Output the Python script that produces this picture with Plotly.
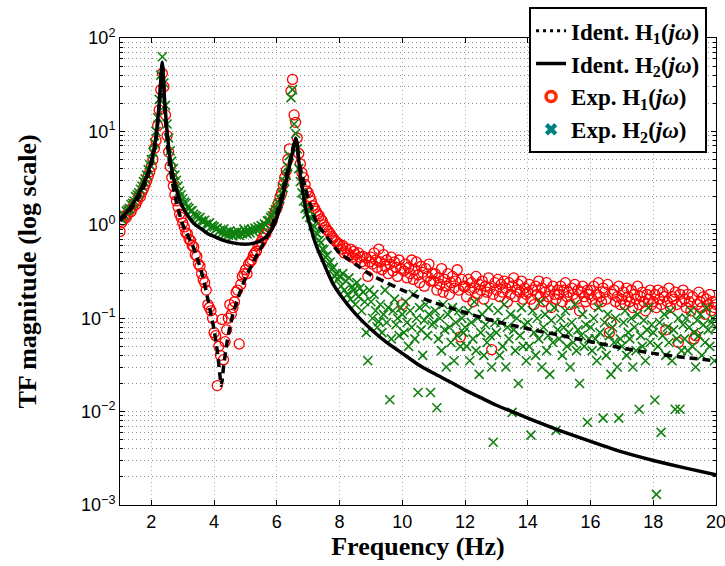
import numpy as np
import plotly.graph_objects as go

# ---------------- data ----------------
FREQ_START = 1.0
FREQ_STEP = 0.05

# Experimental H1 (red circles), one value per 0.05 Hz from 1.00 Hz to 20.00 Hz
exp_h1 = [
    0.85, 1.05, 1.12, 1.25, 1.2, 1.3, 1.45, 1.38, 1.5, 1.7, 1.65, 1.8, 2.05, 2.0, 2.25, 2.45, 2.7, 2.95, 3.3, 3.7,
    4.2, 5.0, 6.6, 8.0, 11.5, 17, 28, 42, 30, 15, 9.0, 6.0, 4.2, 3.2, 2.6, 2.1, 1.8, 1.55, 1.3, 1.2,
    1.05, 0.95, 0.82, 0.8, 0.7, 0.68, 0.6, 0.58, 0.48, 0.46, 0.38, 0.36, 0.3, 0.26, 0.24, 0.2, 0.14, 0.13, 0.12, 0.1,
    0.07, 0.065, 0.019, 0.05, 0.04, 0.097, 0.036, 0.056, 0.075, 0.1, 0.14, 0.11, 0.13, 0.15, 0.19, 0.2, 0.053, 0.23, 0.28, 0.3,
    0.33, 0.3, 0.38, 0.4, 0.42, 0.47, 0.5, 0.52, 0.6, 0.62, 0.66, 0.72, 0.78, 0.8, 0.9, 0.95, 1.05, 1.1, 1.25, 1.4,
    1.5, 1.7, 2.0, 2.2, 2.7, 3.2, 3.8, 5.0, 6.5, 27, 36, 15, 12.5, 8.5, 5.8, 4.5, 3.6, 3.2, 2.7, 2.3,
    2.2, 2.0, 1.8, 1.6, 1.5, 1.4, 1.3, 1.25, 1.15, 1.1, 1.0, 0.95, 0.88, 0.85, 0.8, 0.75, 0.72, 0.68, 0.66, 0.62,
    0.62, 0.55, 0.6, 0.5, 0.56, 0.5, 0.47, 0.55, 0.45, 0.52, 0.48, 0.42, 0.5, 0.45, 0.4, 0.46, 0.38, 0.44, 0.28, 0.4,
    0.45, 0.38, 0.5, 0.42, 0.35, 0.55, 0.4, 0.33, 0.48, 0.36, 0.42, 0.3, 0.38, 0.45, 0.32, 0.4, 0.35, 0.28, 0.42, 0.34,
    0.14, 0.32, 0.38, 0.27, 0.35, 0.3, 0.42, 0.26, 0.33, 0.4, 0.29, 0.24, 0.36, 0.31, 0.22, 0.34, 0.28, 0.38, 0.25, 0.3,
    0.25, 0.3, 0.2, 0.27, 0.23, 0.34, 0.19, 0.26, 0.22, 0.3, 0.18, 0.24, 0.28, 0.21, 0.25, 0.33, 0.2, 0.063, 0.26, 0.22,
    0.22, 0.17, 0.26, 0.2, 0.24, 0.15, 0.21, 0.28, 0.18, 0.23, 0.2, 0.25, 0.16, 0.22, 0.19, 0.27, 0.21, 0.046, 0.18, 0.24,
    0.2, 0.26, 0.17, 0.23, 0.19, 0.25, 0.21, 0.15, 0.24, 0.18, 0.22, 0.27, 0.17, 0.2, 0.23, 0.19, 0.25, 0.16, 0.21, 0.18,
    0.19, 0.23, 0.16, 0.2, 0.14, 0.22, 0.18, 0.25, 0.17, 0.21, 0.15, 0.19, 0.24, 0.17, 0.2, 0.13, 0.22, 0.18, 0.16, 0.2,
    0.18, 0.22, 0.15, 0.2, 0.24, 0.17, 0.19, 0.14, 0.21, 0.18, 0.23, 0.16, 0.2, 0.12, 0.19, 0.22, 0.17, 0.15, 0.2, 0.18,
    0.2, 0.16, 0.22, 0.14, 0.18, 0.24, 0.17, 0.15, 0.21, 0.19, 0.16, 0.23, 0.07, 0.09, 0.18, 0.2, 0.15, 0.17, 0.22, 0.14,
    0.16, 0.19, 0.14, 0.21, 0.17, 0.15, 0.2, 0.13, 0.18, 0.16, 0.22, 0.14, 0.17, 0.19, 0.15, 0.12, 0.18, 0.16, 0.2, 0.14,
    0.15, 0.18, 0.13, 0.2, 0.16, 0.14, 0.19, 0.17, 0.075, 0.15, 0.21, 0.13, 0.17, 0.16, 0.19, 0.14, 0.055, 0.18, 0.15, 0.2,
    0.16, 0.13, 0.18, 0.15, 0.12, 0.17, 0.06, 0.065, 0.14, 0.19, 0.15, 0.13, 0.17, 0.11, 0.16, 0.14, 0.18, 0.12, 0.15, 0.13,
    0.14,
]

# Experimental H2 (green crosses), same frequency grid
exp_h2 = [
    1.2, 1.15, 1.3, 1.25, 1.4, 1.45, 1.5, 1.65, 1.7, 1.8, 2.0, 2.1, 2.2, 2.4, 2.6, 2.9, 3.1, 3.4, 3.9, 4.4,
    5.0, 6.0, 7.5, 10, 14, 22, 40, 63, 33, 19, 12, 8.5, 6.2, 4.8, 4.0, 3.4, 3.0, 2.6, 2.3, 2.1,
    1.9, 1.75, 1.7, 1.55, 1.5, 1.4, 1.42, 1.3, 1.25, 1.22, 1.15, 1.2, 1.1, 1.08, 1.12, 1.02, 1.0, 1.05, 0.95, 0.98,
    0.95, 0.9, 0.92, 0.85, 0.88, 0.82, 0.9, 0.8, 0.84, 0.78, 0.86, 0.8, 0.76, 0.83, 0.79, 0.85, 0.77, 0.82, 0.8, 0.9,
    0.84, 0.8, 0.88, 0.82, 0.9, 0.85, 0.92, 0.88, 0.95, 0.9, 0.98, 0.95, 1.02, 1.0, 1.1, 1.12, 1.2, 1.25, 1.35, 1.45,
    1.55, 1.7, 1.9, 2.2, 2.5, 2.9, 3.4, 4.2, 5.5, 23, 28, 12, 9.5, 6.5, 4.0, 2.9, 2.2, 1.8, 1.5, 1.3,
    1.45, 1.2, 1.18, 0.98, 0.95, 0.82, 0.8, 0.68, 0.64, 0.55, 0.54, 0.45, 0.47, 0.38, 0.4, 0.33, 0.35, 0.28, 0.3, 0.26,
    0.28, 0.22, 0.3, 0.2, 0.25, 0.18, 0.27, 0.16, 0.22, 0.2, 0.14, 0.24, 0.17, 0.21, 0.12, 0.19, 0.15, 0.07, 0.035, 0.2,
    0.15, 0.1, 0.18, 0.12, 0.08, 0.092, 0.14, 0.07, 0.11, 0.2, 0.09, 0.13, 0.0134, 0.06, 0.12, 0.16, 0.085, 0.1, 0.065, 0.13,
    0.11, 0.07, 0.15, 0.09, 0.05, 0.12, 0.08, 0.18, 0.06, 0.1, 0.016, 0.13, 0.075, 0.04, 0.095, 0.14, 0.065, 0.11, 0.016, 0.085,
    0.09, 0.12, 0.011, 0.06, 0.1, 0.045, 0.14, 0.075, 0.03, 0.11, 0.08, 0.055, 0.13, 0.035, 0.09, 0.065, 0.12, 0.05, 0.1, 0.07,
    0.08, 0.05, 0.12, 0.035, 0.09, 0.06, 0.15, 0.045, 0.1, 0.025, 0.07, 0.11, 0.04, 0.085, 0.055, 0.13, 0.065, 0.03, 0.0047, 0.09,
    0.07, 0.12, 0.04, 0.09, 0.05, 0.14, 0.03, 0.08, 0.06, 0.11, 0.0098, 0.075, 0.045, 0.1, 0.02, 0.065, 0.13, 0.05, 0.085, 0.035,
    0.09, 0.05, 0.0056, 0.12, 0.07, 0.04, 0.1, 0.06, 0.15, 0.03, 0.08, 0.11, 0.045, 0.065, 0.025, 0.095, 0.055, 0.13, 0.0063, 0.075,
    0.06, 0.1, 0.04, 0.08, 0.12, 0.05, 0.07, 0.03, 0.09, 0.055, 0.14, 0.045, 0.075, 0.02, 0.065, 0.11, 0.05, 0.085, 0.0077, 0.06,
    0.08, 0.045, 0.1, 0.06, 0.035, 0.13, 0.07, 0.05, 0.0085, 0.09, 0.04, 0.11, 0.065, 0.025, 0.08, 0.055, 0.1, 0.03, 0.0085, 0.06,
    0.05, 0.09, 0.12, 0.04, 0.07, 0.06, 0.1, 0.03, 0.08, 0.045, 0.11, 0.0106, 0.065, 0.05, 0.095, 0.035, 0.075, 0.13, 0.055, 0.085,
    0.07, 0.0133, 0.0013, 0.05, 0.09, 0.006, 0.065, 0.11, 0.04, 0.08, 0.055, 0.12, 0.035, 0.075, 0.0106, 0.06, 0.1, 0.0106, 0.045, 0.085,
    0.06, 0.1, 0.045, 0.08, 0.12, 0.05, 0.07, 0.03, 0.095, 0.065, 0.11, 0.04, 0.085, 0.055, 0.13, 0.075, 0.05, 0.09, 0.1, 0.035,
    0.08,
]

# Identified H1 (dashed)
ident_h1_f = [1.0, 1.2, 1.4, 1.6, 1.8, 1.9, 2.0, 2.1, 2.15, 2.2, 2.25, 2.3, 2.33, 2.35, 2.37, 2.4, 2.45, 2.5, 2.55, 2.6,
              2.7, 2.8, 2.9, 3.0, 3.1, 3.2, 3.3, 3.4, 3.5, 3.6, 3.7, 3.8, 3.9, 4.0, 4.1, 4.15, 4.2, 4.23, 4.26, 4.3,
              4.4, 4.5, 4.6, 4.8, 5.0, 5.2, 5.4, 5.6, 5.8, 6.0, 6.1, 6.2, 6.3, 6.4, 6.5, 6.55, 6.6, 6.65, 6.7, 6.8,
              6.9, 7.0, 7.1, 7.2, 7.3, 7.5, 7.8, 8.0, 8.5, 9.0, 9.5, 10, 10.5, 11, 11.5, 12, 12.5, 13, 13.5, 14,
              14.5, 15, 16, 17, 18, 19, 20]
ident_h1_y = [1.1, 1.28, 1.55, 2.0, 2.75, 3.4, 4.4, 6.4, 8.3, 12, 18.5, 32, 47, 52, 43, 25, 13.5, 8.2, 5.6, 4.0,
              2.5, 1.75, 1.3, 1.0, 0.85, 0.72, 0.62, 0.5, 0.4, 0.31, 0.23, 0.16, 0.11, 0.075, 0.045, 0.032, 0.022, 0.019, 0.022, 0.03,
              0.052, 0.08, 0.11, 0.18, 0.27, 0.37, 0.5, 0.65, 0.9, 1.35, 1.75, 2.4, 3.4, 4.6, 6.3, 7.4, 8.3, 7.3, 4.9, 3.4,
              2.6, 1.9, 1.55, 1.2, 1.0, 0.82, 0.6, 0.5, 0.38, 0.29, 0.24, 0.2, 0.17, 0.148, 0.13, 0.115, 0.102, 0.092, 0.084, 0.077,
              0.071, 0.066, 0.056, 0.048, 0.042, 0.038, 0.035]

# Identified H2 (solid)
ident_h2_f = [1.0, 1.2, 1.4, 1.6, 1.8, 1.9, 2.0, 2.1, 2.15, 2.2, 2.25, 2.3, 2.33, 2.35, 2.37, 2.4, 2.45, 2.5, 2.6, 2.7,
              2.8, 2.9, 3.0, 3.2, 3.4, 3.6, 3.8, 4.0, 4.3, 4.6, 5.0, 5.3, 5.5, 5.7, 5.9, 6.0, 6.1, 6.2, 6.3, 6.4,
              6.5, 6.55, 6.6, 6.65, 6.7, 6.75, 6.8, 6.9, 7.0, 7.1, 7.2, 7.3, 7.45, 7.6, 7.8, 8.0, 8.5, 9.0, 9.5, 10,
              10.5, 11, 11.5, 12, 12.5, 13, 13.5, 14, 15, 16, 17, 18, 19, 20]
ident_h2_y = [1.15, 1.35, 1.65, 2.15, 3.0, 3.7, 4.8, 7.0, 9.0, 13, 20, 35, 50, 55, 46, 28, 16, 10, 5.0, 3.2,
              2.4, 1.85, 1.55, 1.2, 1.0, 0.9, 0.8, 0.75, 0.68, 0.64, 0.62, 0.64, 0.68, 0.77, 0.98, 1.2, 1.55, 2.1, 3.0, 4.2,
              6.0, 7.3, 8.5, 7.2, 4.8, 3.4, 2.6, 1.6, 1.15, 0.88, 0.68, 0.55, 0.42, 0.32, 0.23, 0.182, 0.112, 0.076, 0.055, 0.042,
              0.032, 0.0257, 0.021, 0.017, 0.0141, 0.0117, 0.01, 0.0085, 0.0063, 0.0048, 0.0037, 0.003, 0.0025, 0.0021]

x_ticks = [2, 4, 6, 8, 10, 12, 14, 16, 18, 20]
y_ticks = [1e-3, 1e-2, 1e-1, 1e0, 1e1, 1e2]
y_ticktext = ["10<sup>\u22123</sup>", "10<sup>\u22122</sup>", "10<sup>\u22121</sup>",
              "10<sup>0</sup>", "10<sup>1</sup>", "10<sup>2</sup>"]
legend_names = ["Ident. H<sub>1</sub>(<i>j\u03c9</i>)", "Ident. H<sub>2</sub>(<i>j\u03c9</i>)",
                "Exp. H<sub>1</sub>(<i>j\u03c9</i>)", "Exp. H<sub>2</sub>(<i>j\u03c9</i>)"]

freq = np.round(FREQ_START + FREQ_STEP * np.arange(len(exp_h1)), 2)
y_minor = [k * 10.0 ** e for e in range(-3, 2) for k in range(2, 10)]

fig = go.Figure()

fig.add_trace(go.Scatter(x=freq, y=exp_h1, mode="markers", showlegend=False,
                         marker=dict(symbol="circle-open", size=10, color="#ff0000",
                                     line=dict(width=1.3, color="#ff0000"))))
fig.add_trace(go.Scatter(x=freq, y=exp_h2, mode="markers", showlegend=False,
                         marker=dict(symbol="x-thin-open", size=9, color="#108010",
                                     line=dict(width=1.6, color="#108010"))))
fig.add_trace(go.Scatter(x=ident_h1_f, y=ident_h1_y, mode="lines", showlegend=False,
                         line=dict(color="black", width=3.5, dash="8px,5px", shape="spline", smoothing=0.5)))
fig.add_trace(go.Scatter(x=ident_h2_f, y=ident_h2_y, mode="lines", showlegend=False,
                         line=dict(color="black", width=3.5, shape="spline", smoothing=0.5)))

# legend entries
fig.add_trace(go.Scatter(x=[None], y=[None], mode="lines", name=legend_names[0],
                         line=dict(color="black", width=3, dash="3px,4px")))
fig.add_trace(go.Scatter(x=[None], y=[None], mode="lines", name=legend_names[1],
                         line=dict(color="black", width=3.5)))
fig.add_trace(go.Scatter(x=[None], y=[None], mode="markers", name=legend_names[2],
                         marker=dict(symbol="circle-open", size=10, color="#ff2a00",
                                     line=dict(width=3.5, color="#ff2a00"))))
fig.add_trace(go.Scatter(x=[None], y=[None], mode="markers", name=legend_names[3],
                         marker=dict(symbol="x", size=11, color="#008080",
                                     line=dict(width=0))))

tick_font = dict(family="Liberation Sans", size=18, color="black")
title_font = dict(family="Liberation Serif", size=26, color="black", weight="bold")

fig.update_layout(
    width=725, height=566,
    margin=dict(l=120, r=9, t=38, b=61, autoexpand=False),
    paper_bgcolor="white", plot_bgcolor="white",
    legend=dict(x=0.985, y=1.066, xanchor="right", yanchor="top",
                bgcolor="white", bordercolor="black", borderwidth=2,
                font=dict(family="Liberation Serif", size=23, color="black", weight="bold"),
                tracegroupgap=0, itemwidth=30),
    xaxis=dict(range=[1, 20], tickvals=x_ticks, ticks="inside", ticklen=5,
               tickcolor="black", showline=True, linecolor="black", linewidth=1,
               mirror="ticks", showgrid=True, gridcolor="#b0b0b0", griddash="1px,3px",
               gridwidth=1, zeroline=False, tickfont=tick_font, ticklabeloverflow="allow",
               automargin=False,
               title=dict(text="Frequency (Hz)", font=title_font, standoff=4)),
    yaxis=dict(type="log", range=[-3, 2], tickvals=y_ticks, ticktext=y_ticktext,
               ticks="inside", ticklen=5, tickcolor="black",
               showline=True, linecolor="black", linewidth=1, mirror="ticks",
               showgrid=True, gridcolor="#909090", griddash="1px,3px", gridwidth=1,
               zeroline=False, tickfont=tick_font, automargin=False,
               minor=dict(tickvals=y_minor, ticks="inside", ticklen=3, tickcolor="black",
                          showgrid=True, gridcolor="#909090", griddash="1px,3px", gridwidth=1),
               title=dict(text="TF magnitude (log scale)", font=title_font, standoff=36)),
)

fig.write_html("out.html")
